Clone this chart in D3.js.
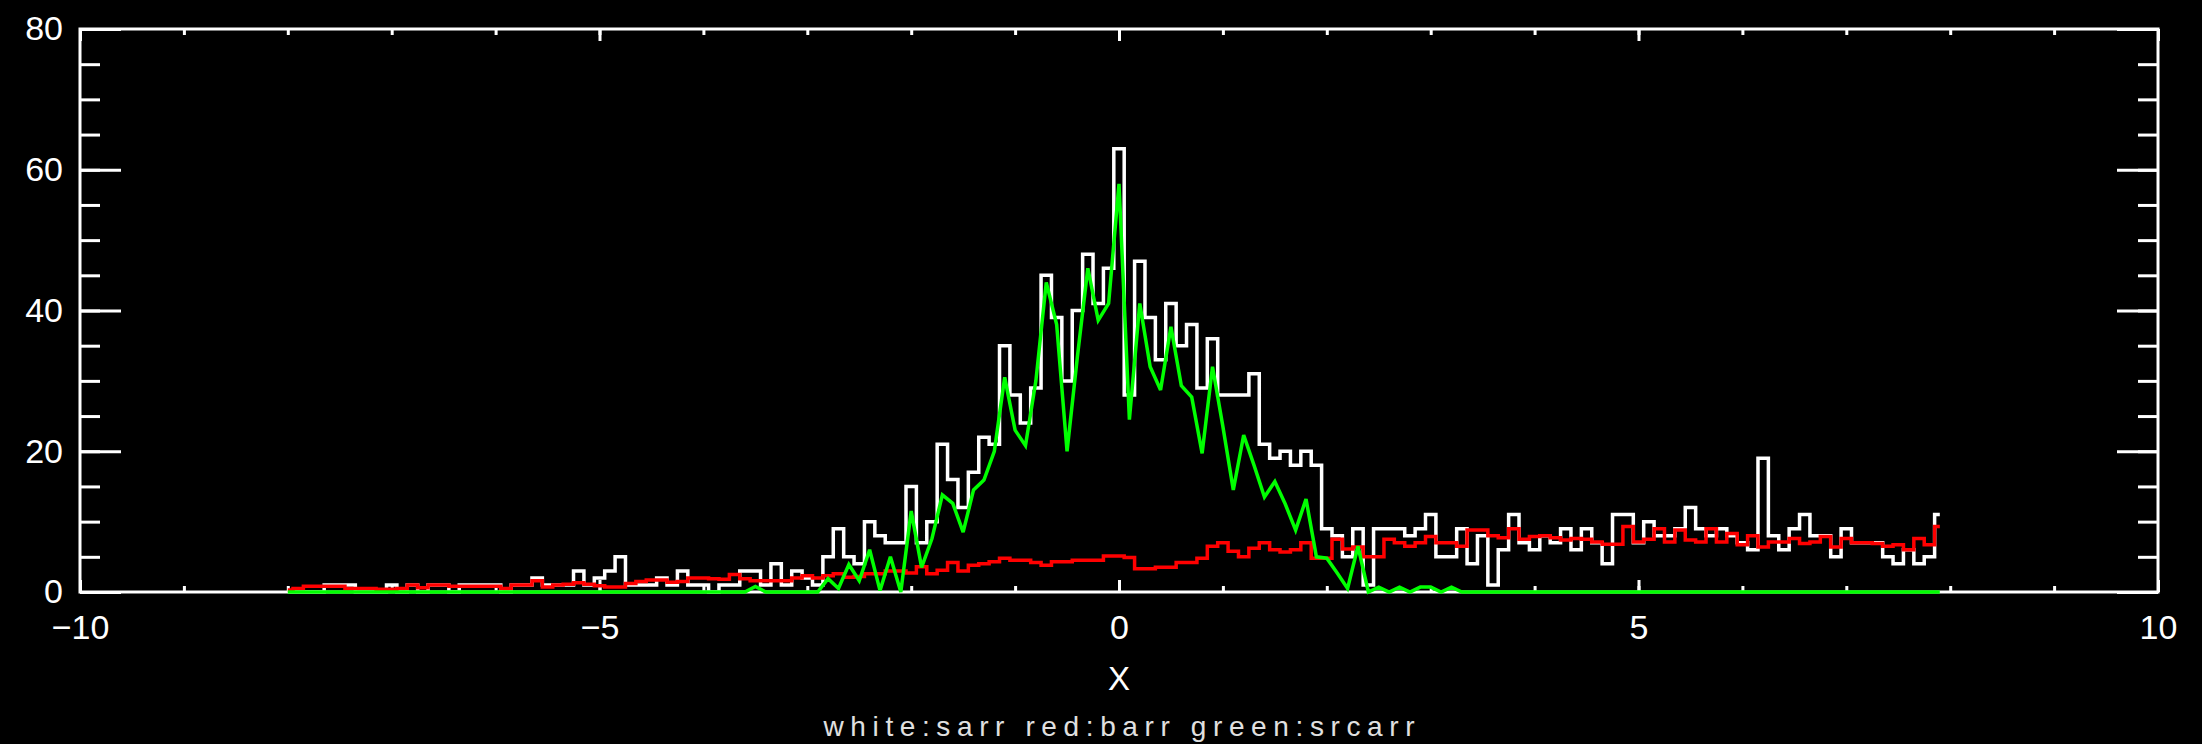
<!DOCTYPE html>
<html>
<head>
<meta charset="utf-8">
<script src="https://cdn.jsdelivr.net/npm/d3@7"></script>
<style>
  html, body { margin: 0; padding: 0; background: #000; overflow: hidden; }
  svg { display: block; }
</style>
</head>
<body>
<svg id="chart"></svg>
<script>
// bin centres start at -8.0 and step by 0.1 (160 bins)
const binStart = -8.0;
const binStep = 0.1;

// white: sarr (counts)
const sarr = [
  0, 0, 0, 0, 1, 1, 1, 0, 0, 0,
  1, 0, 1, 0, 1, 1, 0, 1, 1, 1,
  1, 0, 1, 1, 2, 1, 1, 1, 3, 1,
  2, 3, 5, 1, 1, 1, 2, 1, 3, 1,
  1, 0, 1, 1, 3, 3, 1, 4, 1, 3,
  2, 1, 5, 9, 5, 4, 10, 8, 7, 7,
  15, 7, 10, 21, 16, 12, 17, 22, 21, 35,
  28, 24, 29, 45, 39, 30, 40, 48, 41, 46,
  63, 28, 47, 39, 33, 41, 35, 38, 29, 36,
  28, 28, 28, 31, 21, 19, 20, 18, 20, 18,
  9, 8, 5, 9, 1, 9, 9, 9, 8, 9,
  11, 5, 5, 9, 4, 8, 1, 6, 11, 7,
  6, 8, 7, 9, 6, 9, 7, 4, 11, 11,
  7, 10, 8, 8, 9, 12, 9, 8, 9, 8,
  7, 6, 19, 8, 6, 9, 11, 8, 8, 5,
  9, 7, 7, 7, 5, 4, 6, 4, 5, 11
];

// red: barr
const barr = [
  0.3, 0.5, 0.8, 0.8, 0.8, 0.8, 0.5, 0.5, 0.5, 0.4,
  0.4, 0.5, 1.0, 0.6, 1.0, 1.0, 0.8, 0.8, 0.8, 0.8,
  0.8, 0.5, 1.0, 1.0, 1.6, 0.7, 1.0, 1.1, 1.3, 1.1,
  0.9, 0.7, 0.7, 1.2, 1.5, 1.7, 1.7, 1.4, 1.5, 2.0,
  2.0, 1.9, 1.8, 2.5, 1.9, 1.6, 1.6, 1.6, 1.6, 2.0,
  2.3, 2.0, 2.3, 2.6, 2.1, 2.2, 2.6, 2.6, 3.0, 3.0,
  2.7, 3.6, 2.6, 3.1, 4.2, 3.0, 3.8, 4.0, 4.3, 4.8,
  4.5, 4.5, 4.2, 3.8, 4.3, 4.3, 4.5, 4.5, 4.5, 5.1,
  5.1, 4.9, 3.3, 3.3, 3.5, 3.5, 4.2, 4.2, 4.8, 6.5,
  7.0, 5.8, 5.0, 6.2, 7.0, 6.0, 5.7, 6.0, 7.0, 4.8,
  4.8, 7.5, 6.1, 6.4, 5.0, 5.0, 7.5, 7.0, 6.5, 7.0,
  7.9, 7.0, 7.0, 6.5, 8.8, 8.8, 8.0, 7.7, 9.0, 7.5,
  7.9, 8.0, 7.7, 7.4, 7.6, 7.5, 7.1, 6.8, 6.8, 9.3,
  7.1, 7.5, 9.0, 7.1, 8.8, 7.4, 7.1, 9.0, 7.1, 8.3,
  6.7, 8.0, 6.4, 7.1, 7.1, 7.6, 6.9, 7.1, 7.9, 6.4,
  7.6, 7.0, 7.0, 6.9, 6.5, 6.7, 6.0, 7.6, 6.7, 9.3
];

// green: srcarr
const srcarr = [
  0, 0, 0, 0, 0, 0, 0, 0, 0, 0,
  0, 0, 0, 0, 0, 0, 0, 0, 0, 0,
  0, 0, 0, 0, 0, 0, 0, 0, 0, 0,
  0, 0, 0, 0, 0, 0, 0, 0, 0, 0,
  0, 0, 0, 0, 0, 0.8, 0, 0, 0, 0,
  0, 0, 1.9, 0.5, 3.9, 1.6, 6.0, 0.2, 5.0, 0,
  11.5, 3.5, 7.6, 13.8, 12.6, 8.5, 14.5, 15.9, 20.0, 30.5,
  23.0, 20.8, 30.0, 44.0, 38.0, 20.0, 33.5, 46.0, 38.6, 41.0,
  58.0, 24.5, 41.0, 32.0, 28.7, 37.7, 29.3, 27.7, 19.7, 32.0,
  23.5, 14.5, 22.3, 18.0, 13.5, 15.7, 12.5, 8.8, 13.2, 5.0,
  4.8, 2.7, 0.5, 6.5, 0, 0.7, 0, 0.7, 0, 0.7,
  0.7, 0, 0.7, 0, 0, 0, 0, 0, 0, 0,
  0, 0, 0, 0, 0, 0, 0, 0, 0, 0,
  0, 0, 0, 0, 0, 0, 0, 0, 0, 0,
  0, 0, 0, 0, 0, 0, 0, 0, 0, 0,
  0, 0, 0, 0, 0, 0, 0, 0, 0, 0
];

const xTicks = [-10, -5, 0, 5, 10];
const xMinorTicks = [-10, -9, -8, -7, -6, -5, -4, -3, -2, -1, 0, 1, 2, 3, 4, 5, 6, 7, 8, 9, 10];
const yTicks = [0, 20, 40, 60, 80];
const yMinorTicks = [0, 5, 10, 15, 20, 25, 30, 35, 40, 45, 50, 55, 60, 65, 70, 75, 80];
const xTitle = 'X';
const subTitle = 'white:sarr red:barr green:srcarr';

const w = 2202;
const h = 744;
const plotLeft = 80;
const plotRight = 2158;
const plotTop = 29;
const plotBottom = 592;
const font = "'Liberation Sans', Arial, sans-serif";

const svg = d3.select('#chart').attr('width', w).attr('height', h);
svg.append('rect').attr('width', w).attr('height', h).attr('fill', '#000');

const x = d3.scaleLinear().domain([-10, 10]).range([plotLeft, plotRight]);
const y = d3.scaleLinear().domain([0, 80]).range([plotBottom, plotTop]);

const binX = (i) => binStart + i * binStep;

const drawAxis = (axis, tx, ty) => {
  const g = svg
    .append('g')
    .attr('transform', `translate(${tx},${ty})`)
    .style('color', '#fff')
    .call(axis);
  g.select('.domain').remove();
  g.selectAll('line').attr('stroke-width', 3);
  g.selectAll('text')
    .attr('font-family', font)
    .attr('font-size', 34)
    .attr('fill', '#fff');
  return g;
};

const noLabel = () => '';

// bottom axis
drawAxis(d3.axisBottom(x).tickValues(xMinorTicks).tickSize(-6).tickFormat(noLabel), 0, plotBottom);
drawAxis(
  d3.axisBottom(x).tickValues(xTicks).tickSize(-12).tickPadding(23).tickFormat(d3.format('d')),
  0,
  plotBottom
);
// top axis
drawAxis(d3.axisTop(x).tickValues(xMinorTicks).tickSize(-6).tickFormat(noLabel), 0, plotTop);
drawAxis(d3.axisTop(x).tickValues(xTicks).tickSize(-12).tickFormat(noLabel), 0, plotTop);
// left axis
drawAxis(d3.axisLeft(y).tickValues(yMinorTicks).tickSize(-20).tickFormat(noLabel), plotLeft, 0);
drawAxis(
  d3.axisLeft(y).tickValues(yTicks).tickSize(-41).tickPadding(17).tickFormat(d3.format('d')),
  plotLeft,
  0
);
// right axis
drawAxis(d3.axisRight(y).tickValues(yMinorTicks).tickSize(-20).tickFormat(noLabel), plotRight, 0);
drawAxis(d3.axisRight(y).tickValues(yTicks).tickSize(-41).tickFormat(noLabel), plotRight, 0);

// frame
svg
  .append('rect')
  .attr('x', plotLeft)
  .attr('y', plotTop)
  .attr('width', plotRight - plotLeft)
  .attr('height', plotBottom - plotTop)
  .attr('fill', 'none')
  .attr('stroke', '#fff')
  .attr('stroke-width', 3);

const stepLine = d3
  .line()
  .x((d, i) => x(binX(i)))
  .y((d) => y(d))
  .curve(d3.curveStep);

const plainLine = d3
  .line()
  .x((d, i) => x(binX(i)))
  .y((d) => y(d));

svg
  .append('path')
  .datum(sarr)
  .attr('d', stepLine)
  .attr('fill', 'none')
  .attr('stroke', '#fff')
  .attr('stroke-width', 3.5);

svg
  .append('path')
  .datum(barr)
  .attr('d', stepLine)
  .attr('fill', 'none')
  .attr('stroke', '#ff0000')
  .attr('stroke-width', 3.5);

svg
  .append('path')
  .datum(srcarr)
  .attr('d', plainLine)
  .attr('fill', 'none')
  .attr('stroke', '#00ff00')
  .attr('stroke-width', 3.5)
  .attr('stroke-linejoin', 'miter')
  .attr('stroke-miterlimit', 3);

svg
  .append('text')
  .attr('x', (plotLeft + plotRight) / 2)
  .attr('y', 690)
  .attr('text-anchor', 'middle')
  .attr('font-family', font)
  .attr('font-size', 33)
  .attr('fill', '#fff')
  .text(xTitle);

svg
  .append('text')
  .attr('x', (plotLeft + plotRight) / 2)
  .attr('y', 736)
  .attr('text-anchor', 'middle')
  .attr('font-family', font)
  .attr('font-size', 28)
  .attr('textLength', 591)
  .attr('lengthAdjust', 'spacing')
  .attr('fill', '#e0e0e0')
  .text(subTitle);
</script>
</body>
</html>
